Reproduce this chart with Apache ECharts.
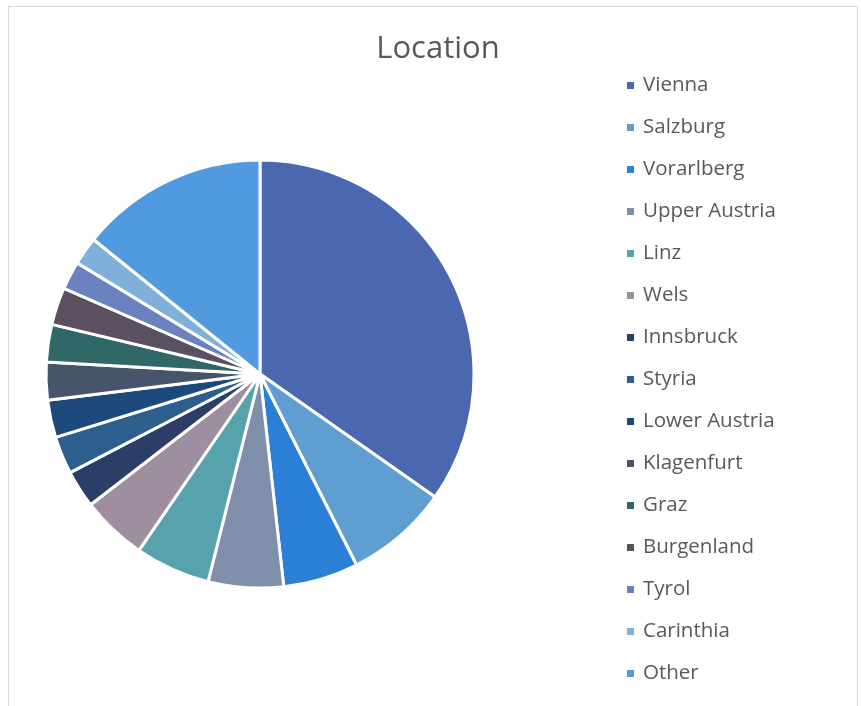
<!DOCTYPE html>
<html>
<head>
<meta charset="utf-8">
<script src="https://cdn.jsdelivr.net/npm/echarts@6/dist/echarts.min.js"></script>
<style>
  html, body { margin: 0; padding: 0; background: #fff; }
  #frame {
    position: absolute; left: 8px; top: 6px; width: 850px; height: 710px;
    border: 1px solid #d9d9d9; border-bottom: none; box-sizing: border-box;
  }
  #chart { position: absolute; left: 0; top: 0; width: 861px; height: 706px; }
</style>
</head>
<body>
<div id="frame"></div>
<div id="chart"></div>
<script>
// 地区
const locations = [
  "Vienna", "Salzburg", "Vorarlberg", "Upper Austria", "Linz", "Wels",
  "Innsbruck", "Styria", "Lower Austria", "Klagenfurt", "Graz",
  "Burgenland", "Tyrol", "Carinthia", "Other"
];
// 数量
const counts = [49, 11, 8, 8, 8, 7, 4, 4, 4, 4, 4, 4, 3, 3, 20];

const colors = [
  "#4a67b0", "#609ed2", "#2c7fd7", "#7f8fa9", "#57a3ac", "#9e8fa0",
  "#2c3d68", "#2c5f8d", "#1d4a7d", "#465569", "#306767",
  "#5b4f62", "#6b81c0", "#7fb0da", "#519ae0"
];

const chart = echarts.init(document.getElementById("chart"));

chart.setOption({
  animation: false,
  color: colors,
  title: {
    text: "Location",
    left: 433,
    top: 29,
    textAlign: "center",
    textStyle: {
      fontFamily: "Open Sans",
      fontSize: 31,
      fontWeight: "normal",
      color: "#595959",
    },
  },
  legend: {
    orient: "vertical",
    left: 620,
    top: 70,
    icon: "rect",
    itemWidth: 9,
    itemHeight: 9,
    itemGap: 21,
    textStyle: {
      fontFamily: "Open Sans",
      fontSize: 20.5,
      color: "#595959",
      padding: [0, 0, 0, 3],
    },
    data: locations,
  },
  series: [
    {
      type: "pie",
      center: [260, 374],
      radius: 214,
      startAngle: 90,
      clockwise: true,
      label: { show: false },
      labelLine: { show: false },
      itemStyle: { borderColor: "#fff", borderWidth: 3 },
      emphasis: { disabled: true },
      data: locations.map((name, i) => ({ name: name, value: counts[i] })),
    },
  ],
});
</script>
</body>
</html>
